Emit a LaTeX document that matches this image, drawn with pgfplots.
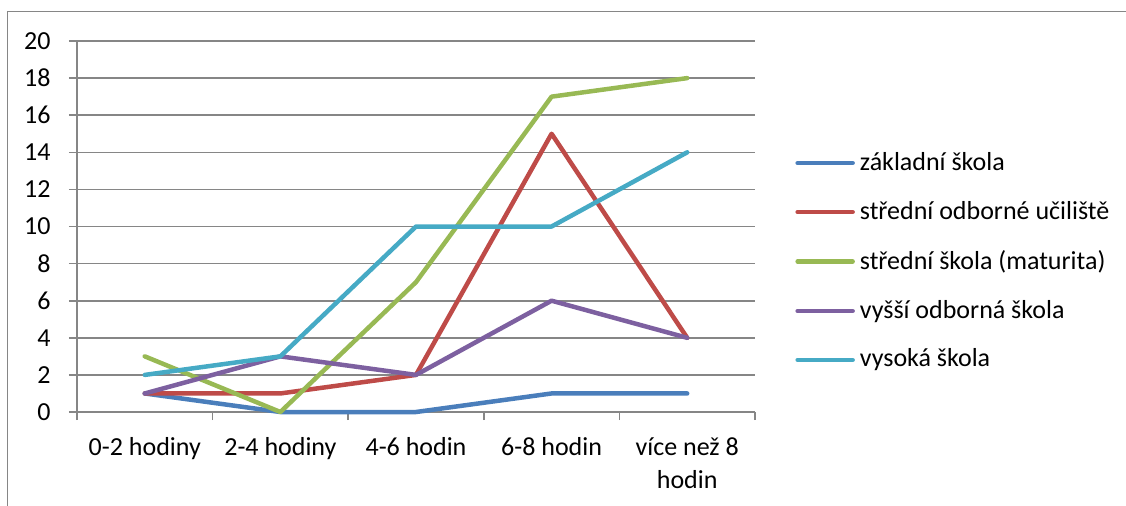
\documentclass[border=0pt]{standalone}
\usepackage{pgfplots}
\pgfplotsset{compat=1.18}
\usepackage{fontspec}
\setmainfont{Carlito}
\definecolor{xblue}{HTML}{4A7EBB}
\definecolor{xred}{HTML}{BE4B48}
\definecolor{xgreen}{HTML}{98B954}
\definecolor{xpurple}{HTML}{7D60A0}
\definecolor{xaqua}{HTML}{46AAC5}
\definecolor{xgray}{HTML}{868686}

\begin{document}
\fontsize{13}{16.5}\selectfont
\begin{tikzpicture}
\useasboundingbox (0,0) rectangle (563pt,-252.5pt);
\clip (0,0) rectangle (563pt,-252.5pt);
\draw[xgray, line width=0.8pt] (3.7pt,-5.8pt) rectangle (700pt,-400pt);
\begin{axis}[
    at={(38.5pt,-206pt)}, anchor=south west,
    scale only axis, width=339pt, height=185.5pt,
    xmin=-0.5, xmax=4.5, ymin=0, ymax=20,
    clip=false,
    axis lines*=left,
    axis line style={xgray, line width=0.8pt},
    tick align=outside, major tick length=4pt,
    tick style={xgray, line width=0.8pt},
    ytick={0,2,...,20},
    ymajorgrids, grid style={xgray, line width=0.8pt},
    yticklabel style={anchor=east, inner sep=0pt, xshift=-9pt},
    /pgf/number format/assume math mode=true,
    xtick={-0.5,0.5,1.5,2.5,3.5,4.5},
    xticklabels={,,,,,},
    extra x ticks={0,1,2,3,4},
    extra x tick labels={0-2 hodiny, 2-4 hodiny, 4-6 hodin, 6-8 hodin, {více než 8\\hodin}},
    extra x tick style={major tick length=0pt, grid=none,
        xticklabel style={anchor=north, align=center, inner sep=0pt, yshift=-12.5pt}},
    legend style={at={(rel axis cs:1.059,0.4057)}, anchor=west, draw=none, fill=none,
        inner sep=0pt, row sep=13.5pt, column sep=2.5pt,
        nodes={inner sep=0pt}},
    legend cell align=left,
    legend image code/.code={\draw[#1, line cap=round] (0pt,0pt) -- (27.5pt,0pt);},
    every axis plot/.append style={line width=2.25pt, line join=round, line cap=round},
]
\addplot[xblue] coordinates {(0,1) (1,0) (2,0) (3,1) (4,1)};
\addlegendentry{základní škola}
\addplot[xred] coordinates {(0,1) (1,1) (2,2) (3,15) (4,4)};
\addlegendentry{střední odborné učiliště}
\addplot[xgreen] coordinates {(0,3) (1,0) (2,7) (3,17) (4,18)};
\addlegendentry{střední škola (maturita)}
\addplot[xpurple] coordinates {(0,1) (1,3) (2,2) (3,6) (4,4)};
\addlegendentry{vyšší odborná škola}
\addplot[xaqua] coordinates {(0,2) (1,3) (2,10) (3,10) (4,14)};
\addlegendentry{vysoká škola}
\end{axis}
\end{tikzpicture}
\end{document}
